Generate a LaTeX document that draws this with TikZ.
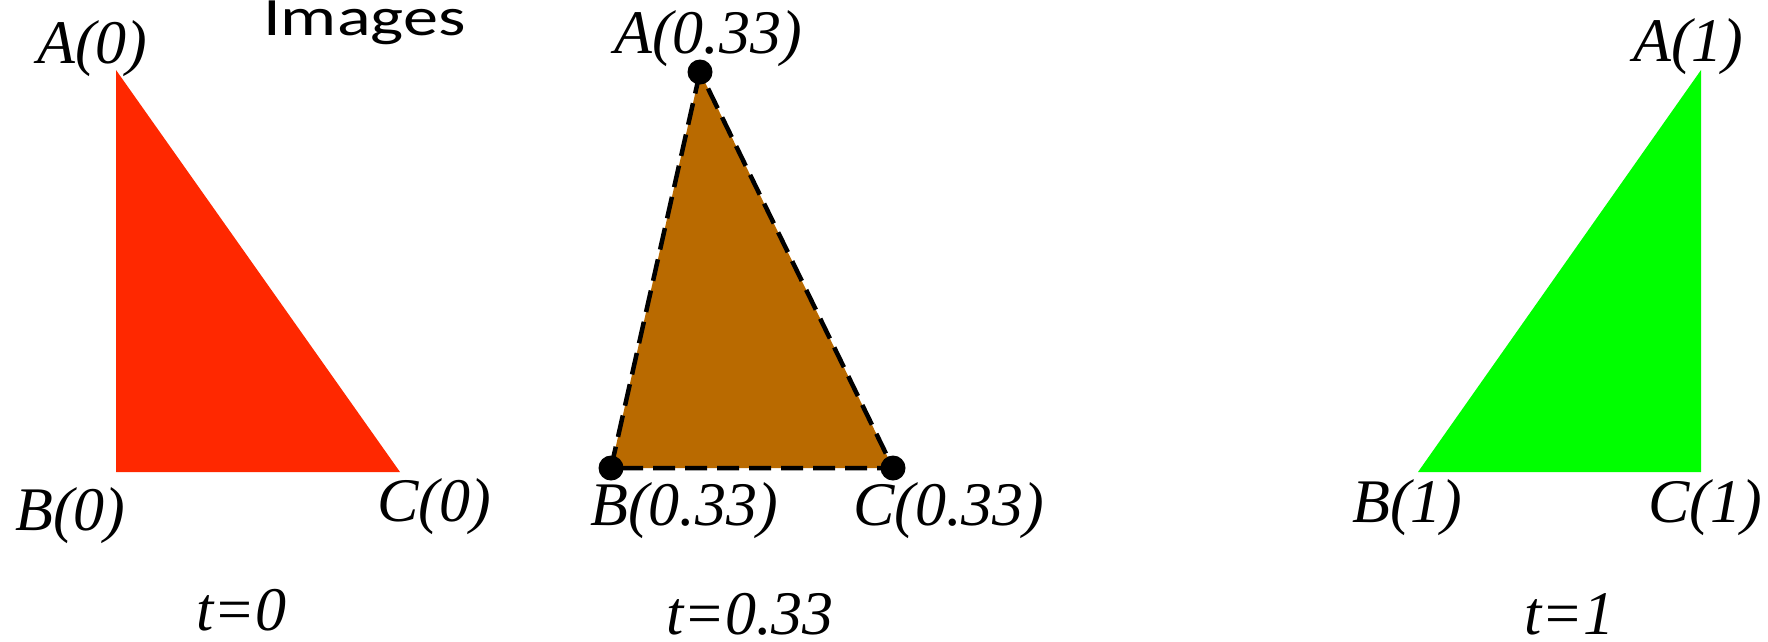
\documentclass[tikz,border=0pt]{standalone}
\usepackage{fontspec}
\setmainfont{Liberation Serif}
\newfontfamily\titlefont{Carlito}
\definecolor{tred}{HTML}{FF2800}
\definecolor{tbrown}{HTML}{B96A00}
\definecolor{tgreen}{HTML}{00FF00}
\newcommand\lblfont{\fontsize{62}{70}\selectfont\itshape}
\begin{document}
\begin{tikzpicture}[x=1pt,y=-1pt,
  lbl/.style={font=\lblfont, inner sep=0pt, anchor=base west},
  dot/.style={circle, fill=black, inner sep=0pt, minimum size=25pt},
  dashedge/.style={draw=black, line width=4.5pt, dash pattern=on 22pt off 10pt}]
\useasboundingbox (0,0) rectangle (1768,641);
% title
\node[font=\titlefont\fontsize{54}{60}\selectfont, inner sep=0pt, anchor=base west, xscale=1.3] (title) at (263,35) {Images};
% t = 0
\coordinate (rA) at (116,70);
\coordinate (rB) at (116,472);
\coordinate (rC) at (400,472);
\fill[tred] (rA) -- (rB) -- (rC) -- cycle;
\node[lbl] (lA0) at (37,63) {A(0)};
\node[lbl] (lB0) at (15,530) {B(0)};
\node[lbl] (lC0) at (377,521) {C(0)};
\node[lbl] (t0) at (196,630) {t=0};
% t = 0.33
\coordinate (bA) at (700,72);
\coordinate (bB) at (611,468);
\coordinate (bC) at (893,468);
\fill[tbrown] (bA) -- (bB) -- (bC) -- cycle;
\draw[dashedge] (bA) -- (bB) -- (bC) -- cycle;
\node[dot] (dA) at (bA) {};
\node[dot] (dB) at (bB) {};
\node[dot] (dC) at (bC) {};
\node[lbl] (lA33) at (614,53) {A(0.33)};
\node[lbl] (lB33) at (590,525) {B(0.33)};
\node[lbl] (lC33) at (853,525) {C(0.33)};
\node[lbl] (t33) at (666,634) {t=0.33};
% t = 1
\coordinate (gA) at (1701,70);
\coordinate (gB) at (1418,472);
\coordinate (gC) at (1701,472);
\fill[tgreen] (gA) -- (gB) -- (gC) -- cycle;
\node[lbl] (lA1) at (1633,61) {A(1)};
\node[lbl] (lB1) at (1352,522) {B(1)};
\node[lbl] (lC1) at (1648,522) {C(1)};
\node[lbl] (t1) at (1524,634) {t=1};
\end{tikzpicture}
\end{document}
